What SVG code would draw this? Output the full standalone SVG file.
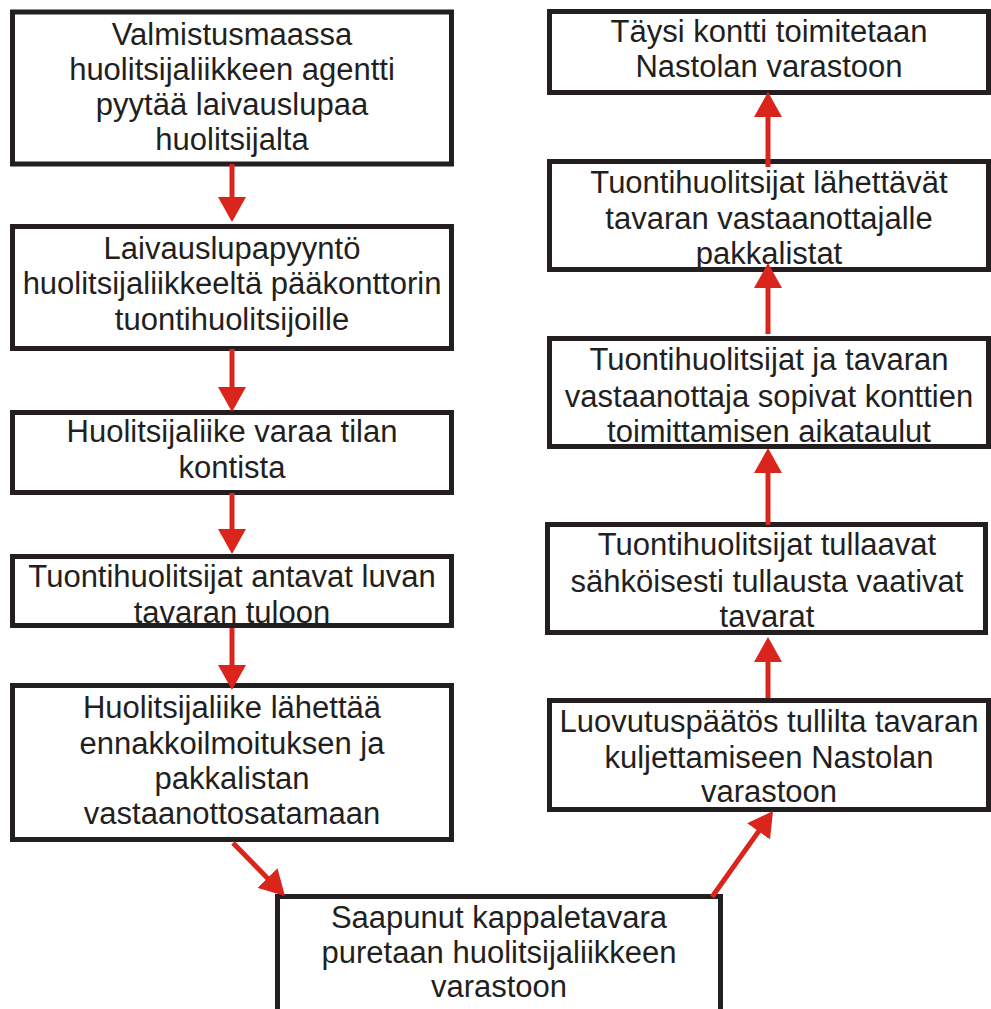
<svg xmlns="http://www.w3.org/2000/svg" width="991" height="1009" viewBox="0 0 991 1009">
<style>
.box{fill:#ffffff;stroke:#231f20;stroke-width:5}
.t{font-family:"Liberation Sans",Arial,sans-serif;font-size:31px;fill:#231f20;text-anchor:middle}
.c{stroke:#da251d;stroke-width:5;fill:none}
</style>
<defs>
<marker id="ah" markerUnits="userSpaceOnUse" markerWidth="25" markerHeight="28" viewBox="0 0 25 28" refX="13" refY="14" orient="auto">
<path d="M0,0 L25,14 L0,28 Z" fill="#da251d"/>
</marker>
</defs>
<rect width="991" height="1009" fill="#ffffff"/>
<g id="n1"><rect class="box" x="12.5" y="12" width="439" height="152"/>
<text class="t" x="232"><tspan x="232" y="45">Valmistusmaassa</tspan><tspan x="232" y="80">huolitsijaliikkeen agentti</tspan><tspan x="232" y="115">pyytää laivauslupaa</tspan><tspan x="232" y="150">huolitsijalta</tspan></text></g>
<g id="n2"><rect class="box" x="12.5" y="226.5" width="439" height="122"/>
<text class="t"><tspan x="232" y="259">Laivauslupapyyntö</tspan><tspan x="232" y="294">huolitsijaliikkeeltä pääkonttorin</tspan><tspan x="232" y="330">tuontihuolitsijoille</tspan></text></g>
<g id="n3"><rect class="box" x="12.5" y="412.5" width="439" height="80"/>
<text class="t"><tspan x="232" y="442">Huolitsijaliike varaa tilan</tspan><tspan x="232" y="478">kontista</tspan></text></g>
<g id="n4"><rect class="box" x="12.5" y="556.5" width="439" height="69"/>
<text class="t"><tspan x="232" y="587">Tuontihuolitsijat antavat luvan</tspan><tspan x="232" y="623">tavaran tuloon</tspan></text></g>
<g id="n5"><rect class="box" x="12.5" y="685.5" width="439" height="154"/>
<text class="t"><tspan x="232" y="718">Huolitsijaliike lähettää</tspan><tspan x="232" y="754">ennakkoilmoituksen ja</tspan><tspan x="232" y="789">pakkalistan</tspan><tspan x="232" y="824">vastaanottosatamaan</tspan></text></g>
<g id="n6"><rect class="box" x="277.5" y="896.5" width="443" height="200"/>
<text class="t"><tspan x="499" y="928">Saapunut kappaletavara</tspan><tspan x="499" y="963">puretaan huolitsijaliikkeen</tspan><tspan x="499" y="997">varastoon</tspan></text></g>
<g id="n7"><rect class="box" x="549.5" y="700.5" width="439" height="109"/>
<text class="t"><tspan x="769" y="732">Luovutuspäätös tullilta tavaran</tspan><tspan x="769" y="768">kuljettamiseen Nastolan</tspan><tspan x="769" y="802">varastoon</tspan></text></g>
<g id="n8"><rect class="box" x="547.5" y="524.5" width="438" height="108"/>
<text class="t"><tspan x="767" y="555">Tuontihuolitsijat tullaavat</tspan><tspan x="767" y="592">sähköisesti tullausta vaativat</tspan><tspan x="767" y="627">tavarat</tspan></text></g>
<g id="n9"><rect class="box" x="549.5" y="338.5" width="439" height="108"/>
<text class="t"><tspan x="769" y="370">Tuontihuolitsijat ja tavaran</tspan><tspan x="769" y="407">vastaanottaja sopivat konttien</tspan><tspan x="769" y="442">toimittamisen aikataulut</tspan></text></g>
<g id="n10"><rect class="box" x="549.5" y="161.5" width="439" height="108"/>
<text class="t"><tspan x="769" y="193">Tuontihuolitsijat lähettävät</tspan><tspan x="769" y="229">tavaran vastaanottajalle</tspan><tspan x="769" y="264">pakkalistat</tspan></text></g>
<g id="n11"><rect class="box" x="549.5" y="11.5" width="439" height="81"/>
<text class="t"><tspan x="769" y="42">Täysi kontti toimitetaan</tspan><tspan x="769" y="77">Nastolan varastoon</tspan></text></g>
<g id="connectors">
<line class="c" x1="232" y1="164" x2="232" y2="210" marker-end="url(#ah)"/>
<line class="c" x1="232" y1="349" x2="232" y2="400" marker-end="url(#ah)"/>
<line class="c" x1="232" y1="493" x2="232" y2="542" marker-end="url(#ah)"/>
<line class="c" x1="232" y1="628" x2="232" y2="678" marker-end="url(#ah)"/>
<line class="c" x1="233" y1="843" x2="276.6" y2="887.4" marker-end="url(#ah)"/>
<line class="c" x1="712" y1="897" x2="766.1" y2="820.8" marker-end="url(#ah)"/>
<line class="c" x1="768" y1="698" x2="768" y2="649" marker-end="url(#ah)"/>
<line class="c" x1="768" y1="525" x2="768" y2="460" marker-end="url(#ah)"/>
<line class="c" x1="768" y1="334" x2="768" y2="275" marker-end="url(#ah)"/>
<line class="c" x1="768" y1="167" x2="768" y2="104" marker-end="url(#ah)"/>
</g>
</svg>
